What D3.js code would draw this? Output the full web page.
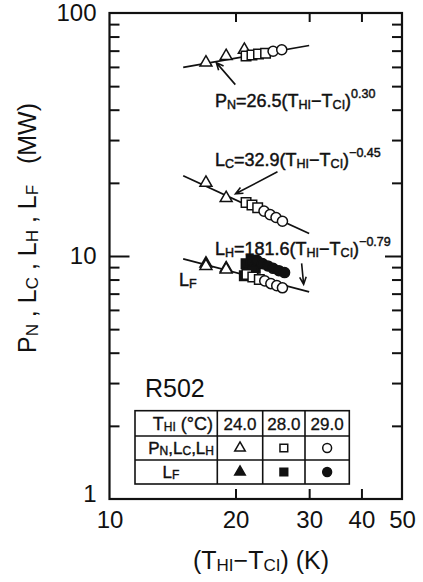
<!DOCTYPE html>
<html>
<head>
<meta charset="utf-8">
<script src="https://cdn.jsdelivr.net/npm/d3@7"></script>
<style>
  body { margin: 0; background: #fff; }
  svg { display: block; }
  text { font-family: "Liberation Sans", Arial, Helvetica, sans-serif; fill: #111; }
  text.narrow { font-family: "Liberation Sans Narrow", "Arial Narrow", "Liberation Sans", sans-serif; }
</style>
</head>
<body>
<svg id="chart" width="423" height="582"></svg>
<script>
// ---- data: temperature difference (T_HI - T_CI) in K, value in MW ----
const xTickValues = [10, 20, 30, 40, 50];
const yTickValues = [1, 10, 100];
const thiLevels = ["24.0", "28.0", "29.0"];

// P_N (open symbols)
const pnTriangle = [[17.0, 62.5], [19.0, 66.5], [21.0, 70.5]];
const pnSquare   = [[21.2, 66.5], [21.9, 67.2], [22.7, 67.8], [23.6, 68.3]];
const pnCircle   = [[24.6, 69.6], [25.8, 70.6]];

// upper loss branch (open symbols)
const lcTriangle = [[17.0, 20.0], [19.0, 17.3]];
const lcSquare   = [[21.2, 16.6], [21.9, 16.2], [22.6, 15.8]];
const lcCircle   = [[23.4, 15.3], [24.2, 14.8], [25.0, 14.4], [25.9, 13.9]];

// lower loss branch (open symbols)
const lhTriangle = [[17.0, 9.1], [19.0, 8.8]];
const lhSquare   = [[21.3, 8.4], [22.0, 8.2], [22.8, 8.0]];
const lhCircle   = [[23.5, 7.9], [24.3, 7.7], [25.1, 7.55], [25.9, 7.4]];

// L_F (filled symbols)
const lfTriangle = [[17.0, 9.3], [19.0, 8.9]];
const lfSquare   = [[21.0, 8.3], [21.2, 9.3], [21.8, 9.6], [22.3, 8.9], [22.0, 8.6]];
const lfCircle   = [[22.5, 9.6], [23.2, 9.3], [23.9, 9.1], [24.6, 8.9], [25.4, 8.7], [26.2, 8.55]];

// power-law fits  y = a * x^b, drawn over fitRange
const fitCoef = [26.5, 181.6, 32.9];
const fitExp  = [0.30, -0.79, -0.45];
const fitRange = [15, 30];

// ---- layout ----
const svg = d3.select("#chart");
const x = d3.scaleLog().domain([10, 50]).range([109.5, 402]);
const y = d3.scaleLog().domain([1, 100]).range([499, 13]);
const ink = "#111";

// rich text helper: parts = [[text, kind]] with kind "", "sub", "sup"
function rich(g, parts, opt) {
  const t = g.append("text")
    .attr("x", opt.x).attr("y", opt.y)
    .attr("font-size", opt.size)
    .attr("text-anchor", opt.anchor || "start");
  if (opt.cls) t.attr("class", opt.cls);
  if (opt.transform) t.attr("transform", opt.transform);
  if (opt.stroke) t.attr("stroke", ink).attr("stroke-width", opt.stroke);
  let shift = 0;
  parts.forEach(([s, kind]) => {
    let target = 0, fs = opt.size;
    if (kind === "sub") { target = opt.subShift; fs = opt.subSize; }
    if (kind === "sup") { target = opt.supShift; fs = opt.supSize; }
    t.append("tspan").attr("font-size", fs).attr("dy", target - shift).text(s);
    shift = target;
  });
  return t;
}

// ---- ticks (inward on all four sides) ----
const minorY = [2, 3, 4, 5, 6, 7, 8, 9, 20, 30, 40, 50, 60, 70, 80, 90];
function styleAxis(g) {
  g.select(".domain").remove();
  g.selectAll("line").attr("stroke", ink).attr("stroke-width", 2);
}
svg.append("g").attr("transform", `translate(${x.range()[0]},0)`)
  .call(d3.axisLeft(y).tickValues(minorY).tickSize(-10).tickFormat("")).call(styleAxis);
svg.append("g").attr("transform", `translate(${x.range()[0]},0)`)
  .call(d3.axisLeft(y).tickValues([10]).tickSize(-20).tickFormat("")).call(styleAxis);
svg.append("g").attr("transform", `translate(${x.range()[1]},0)`)
  .call(d3.axisRight(y).tickValues(minorY).tickSize(-10).tickFormat("")).call(styleAxis);
svg.append("g").attr("transform", `translate(${x.range()[1]},0)`)
  .call(d3.axisRight(y).tickValues([10]).tickSize(-17).tickFormat("")).call(styleAxis);
svg.append("g").attr("transform", `translate(0,${y.range()[0]})`)
  .call(d3.axisBottom(x).tickValues([20, 30, 40]).tickSize(-10).tickFormat("")).call(styleAxis);
svg.append("g").attr("transform", `translate(0,${y.range()[1]})`)
  .call(d3.axisTop(x).tickValues([20, 30, 40]).tickSize(-9).tickFormat("")).call(styleAxis);

// tick labels
const yl = svg.append("g").attr("transform", `translate(${x.range()[0]},0)`)
  .call(d3.axisLeft(y).tickValues(yTickValues).tickSize(0).tickPadding(13).tickFormat(d3.format("d")));
yl.select(".domain").remove();
yl.selectAll("text").attr("font-size", 24).attr("font-family", null).attr("fill", ink);
yl.selectAll(".tick").filter(d => d === 1).select("text").attr("dy", "0.1em");
const xl = svg.append("g").attr("transform", `translate(0,${y.range()[0]})`)
  .call(d3.axisBottom(x).tickValues(xTickValues).tickSize(0).tickPadding(12).tickFormat(d3.format("d")));
xl.select(".domain").remove();
xl.selectAll("text").attr("font-size", 24).attr("font-family", null).attr("fill", ink);

// frame
svg.append("rect")
  .attr("x", x.range()[0]).attr("y", y.range()[1])
  .attr("width", x.range()[1] - x.range()[0])
  .attr("height", y.range()[0] - y.range()[1])
  .attr("fill", "none").attr("stroke", ink).attr("stroke-width", 2.2);

// ---- fit lines ----
const fitLine = d3.line().x(d => x(d[0])).y(d => y(d[1]));
fitCoef.forEach((a, i) => {
  const pts = fitRange.map(v => [v, a * Math.pow(v, fitExp[i])]);
  svg.append("path").attr("d", fitLine(pts))
    .attr("fill", "none").attr("stroke", ink).attr("stroke-width", 1.7);
});

// ---- markers ----
const shapes = {
  tri: d3.symbol().type(d3.symbolTriangle).size(62),
  sq:  d3.symbol().type(d3.symbolSquare).size(90),
  cir: d3.symbol().type(d3.symbolCircle).size(80)
};
function plot(data, shape, filled) {
  svg.append("g").selectAll("path").data(data).join("path")
    .attr("transform", d => `translate(${x(d[0])},${y(d[1])})`)
    .attr("d", shapes[shape]())
    .attr("fill", filled ? ink : "#fff")
    .attr("stroke", ink).attr("stroke-width", 1.5);
}
plot(lfTriangle, "tri", true);
plot(lfSquare, "sq", true);
plot(lfCircle, "cir", true);
[[pnTriangle, lcTriangle, lhTriangle, "tri"],
 [pnSquare, lcSquare, lhSquare, "sq"],
 [pnCircle, lcCircle, lhCircle, "cir"]].forEach(([a, b, c, s]) => {
  plot(a, s, false); plot(b, s, false); plot(c, s, false);
});

// ---- equation labels ----
const eqOpt = { size: 18, subSize: 12.5, supSize: 12.5, subShift: 1.5, supShift: -9, stroke: 0.45, cls: "narrow" };
rich(svg, [["P", ""], ["N", "sub"], ["=26.5(T", ""], ["HI", "sub"], ["\u2212T", ""], ["CI", "sub"], [")", ""], ["0.30", "sup"]],
  Object.assign({ x: 215, y: 107 }, eqOpt));
rich(svg, [["L", ""], ["C", "sub"], ["=32.9(T", ""], ["HI", "sub"], ["\u2212T", ""], ["CI", "sub"], [")", ""], ["\u22120.45", "sup"]],
  Object.assign({ x: 215, y: 166 }, eqOpt));
rich(svg, [["L", ""], ["H", "sub"], ["=181.6(T", ""], ["HI", "sub"], ["\u2212T", ""], ["CI", "sub"], [")", ""], ["\u22120.79", "sup"]],
  Object.assign({ x: 215, y: 255 }, eqOpt));
rich(svg, [["L", ""], ["F", "sub"]], Object.assign({ x: 179, y: 286 }, eqOpt));

// arrows: tip on a fit line (x value, fit index), tail as pixel offset
const arrows = [
  { xv: 18.0, fit: 0, dy: 1, tail: [19, 22] },
  { xv: 20.0, fit: 1, dy: -6, tail: [42, -22] },
  { xv: 29.1, fit: 2, dy: -6, tail: [-2, -21] }
];
arrows.forEach(a => {
  const tx = x(a.xv), ty = y(fitCoef[a.fit] * Math.pow(a.xv, fitExp[a.fit])) + a.dy;
  const sx = tx + a.tail[0], sy = ty + a.tail[1];
  const ang = Math.atan2(ty - sy, tx - sx), L = 8, w = 0.42;
  svg.append("path")
    .attr("d", `M${sx},${sy}L${tx},${ty}` +
      `M${tx - L * Math.cos(ang - w)},${ty - L * Math.sin(ang - w)}L${tx},${ty}` +
      `L${tx - L * Math.cos(ang + w)},${ty - L * Math.sin(ang + w)}`)
    .attr("fill", "none").attr("stroke", ink).attr("stroke-width", 1.6);
});

// ---- axis titles ----
rich(svg, [["P", ""], ["N", "sub"], [" , L", ""], ["C", "sub"], [" , L", ""], ["H", "sub"], [" , L", ""], ["F", "sub"], ["   (MW)", ""]],
  { x: 0, y: 0, size: 25, subSize: 17, subShift: 1.5, anchor: "middle", transform: "translate(36,228) rotate(-90)" })
  .attr("xml:space", "preserve");
rich(svg, [["(T", ""], ["HI", "sub"], ["\u2212T", ""], ["CI", "sub"], [") (K)", ""]],
  { x: 261, y: 569, size: 25, subSize: 17, subShift: 1.5, anchor: "middle" });

// ---- R502 and symbol table ----
svg.append("text").attr("x", 145).attr("y", 397).attr("font-size", 25).text("R502");

const cols = [135, 217.3, 262.7, 305, 349.3];
const rows = [410.7, 436, 460, 484];
const tbl = svg.append("g").attr("stroke", ink).attr("stroke-width", 1.6).attr("fill", "none");
tbl.append("rect").attr("x", cols[0]).attr("y", rows[0])
  .attr("width", cols[4] - cols[0]).attr("height", rows[3] - rows[0]);
rows.slice(1, 3).forEach(r => tbl.append("line").attr("x1", cols[0]).attr("x2", cols[4]).attr("y1", r).attr("y2", r));
cols.slice(1, 4).forEach(c => tbl.append("line").attr("x1", c).attr("x2", c).attr("y1", rows[0]).attr("y2", rows[3]));

const colMid = d => (cols[d + 1] + cols[d + 2]) / 2;
rich(svg, [["T", ""], ["HI", "sub"], [" (\u00b0C)", ""]],
  { x: 213, y: 430, size: 18, subSize: 12, subShift: 1, anchor: "end", stroke: 0.35, cls: "narrow" });
thiLevels.forEach((t, i) => {
  svg.append("text").attr("x", colMid(i)).attr("y", 430).attr("text-anchor", "middle")
    .attr("font-size", 17).attr("stroke", ink).attr("stroke-width", 0.3).text(t);
});
rich(svg, [["P", ""], ["N", "sub"], [",L", ""], ["C", "sub"], [",L", ""], ["H", "sub"]],
  { x: 214, y: 454, size: 17, subSize: 12, subShift: 1, anchor: "end", stroke: 0.4, cls: "narrow" });
rich(svg, [["L", ""], ["F", "sub"]],
  { x: 171, y: 478, size: 17, subSize: 12, subShift: 1, anchor: "middle", stroke: 0.4, cls: "narrow" });

const legendShapes = {
  tri: d3.symbol().type(d3.symbolTriangle).size(48),
  sq:  d3.symbol().type(d3.symbolSquare).size(60),
  cir: d3.symbol().type(d3.symbolCircle).size(62)
};
["tri", "sq", "cir"].forEach((s, i) => {
  svg.append("path").attr("transform", `translate(${colMid(i)},${(rows[1] + rows[2]) / 2})`)
    .attr("d", legendShapes[s]()).attr("fill", "#fff").attr("stroke", ink).attr("stroke-width", 1.5);
  svg.append("path").attr("transform", `translate(${colMid(i)},${(rows[2] + rows[3]) / 2})`)
    .attr("d", legendShapes[s]()).attr("fill", ink).attr("stroke", ink).attr("stroke-width", 1.5);
});
</script>
</body>
</html>
